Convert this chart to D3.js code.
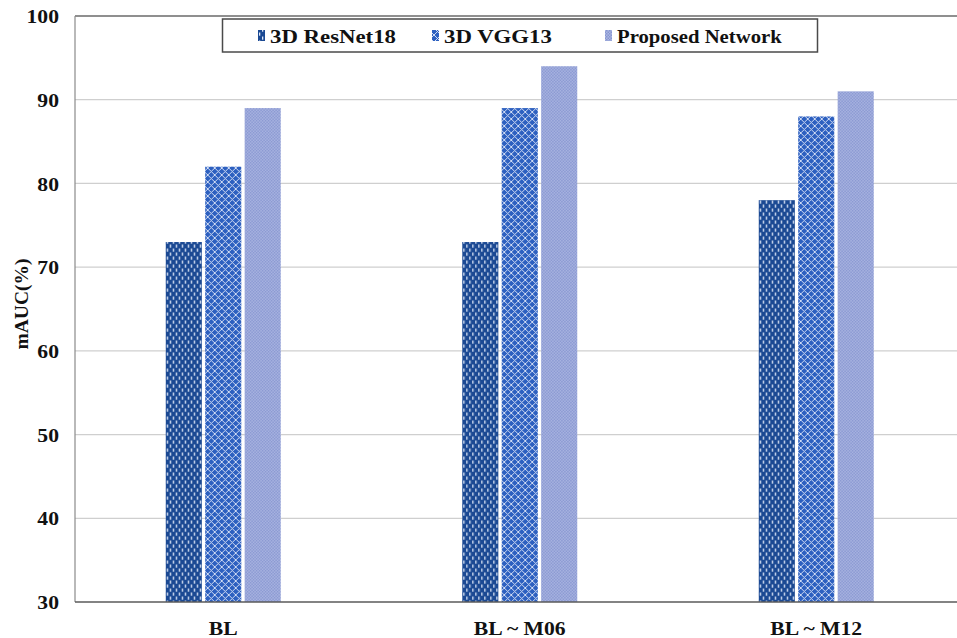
<!DOCTYPE html>
<html>
<head>
<meta charset="utf-8">
<script src="https://cdn.jsdelivr.net/npm/d3@7"></script>
<style>
  html, body { margin: 0; padding: 0; background: #fff; }
  svg { display: block; }
  text { font-family: "Liberation Serif", "Times New Roman", serif; font-weight: bold; fill: #111; }
</style>
</head>
<body>
<svg id="chart" width="957" height="638"></svg>
<script>
// Data
const categories = ["BL", "BL ~ M06", "BL ~ M12"];
const seriesNames = ["3D ResNet18", "3D VGG13", "Proposed Network"];
const resnet18 = [73, 73, 78];
const vgg13 = [82, 89, 88];
const proposed = [89, 94, 91];
const yTicks = [30, 40, 50, 60, 70, 80, 90, 100];
const seriesValues = [resnet18, vgg13, proposed];

const svg = d3.select("#chart");
const W = 957, H = 638;
const margin = { left: 75, top: 16, bottom: 36 };
const plotBottom = H - margin.bottom;
const plotRight = 964.5;
const stretch = 1.17;

// Fill patterns
const defs = svg.append("defs");
const pRes = defs.append("pattern").attr("id", "pat-res").attr("patternUnits", "userSpaceOnUse")
  .attr("width", 6).attr("height", 8);
pRes.append("rect").attr("width", 6).attr("height", 8).attr("fill", "#1b4993");
pRes.append("rect").attr("x", 1).attr("y", 0.5).attr("width", 1.3).attr("height", 3.2).attr("fill", "#dfe7f7");
pRes.append("rect").attr("x", 4).attr("y", 4.5).attr("width", 1.3).attr("height", 3.2).attr("fill", "#dfe7f7");

const pVgg = defs.append("pattern").attr("id", "pat-vgg").attr("patternUnits", "userSpaceOnUse")
  .attr("width", 7).attr("height", 7);
pVgg.append("rect").attr("width", 7).attr("height", 7).attr("fill", "#2d60c0");
pVgg.append("path").attr("d", "M0,0 L7,7 M7,0 L0,7 M-1,6 L1,8 M6,-1 L8,1 M-1,1 L1,-1 M6,8 L8,6")
  .attr("stroke", "#d8e2f6").attr("stroke-width", 0.95).attr("fill", "none");

const pProp = defs.append("pattern").attr("id", "pat-prop").attr("patternUnits", "userSpaceOnUse")
  .attr("width", 3).attr("height", 3);
pProp.append("rect").attr("width", 3).attr("height", 3).attr("fill", "#abb6e2");
pProp.append("rect").attr("width", 1.5).attr("height", 1.5).attr("fill", "#8796d0");
pProp.append("rect").attr("x", 1.5).attr("y", 1.5).attr("width", 1.5).attr("height", 1.5).attr("fill", "#8796d0");

const fills = ["url(#pat-res)", "url(#pat-vgg)", "url(#pat-prop)"];

// Scales
const x = d3.scaleBand().domain(categories).range([margin.left, plotRight]).padding(0);
const groupW = 115;
const xInner = d3.scaleBand().domain(seriesNames).range([0, groupW]).paddingInner(0.085).paddingOuter(0);
const y = d3.scaleLinear().domain([30, 100]).range([plotBottom, margin.top]);

function stretchText(sel, k) {
  sel.each(function () {
    const len = this.getComputedTextLength();
    d3.select(this).attr("textLength", len * (k || stretch)).attr("lengthAdjust", "spacingAndGlyphs");
  });
}

// Gridlines
svg.append("g").selectAll("line").data(yTicks.filter(t => t > 30 && t < 100)).join("line")
  .attr("x1", margin.left).attr("x2", W)
  .attr("y1", d => y(d)).attr("y2", d => y(d))
  .attr("stroke", "#cfcfcf").attr("stroke-width", 1.2);

// Frame: top and left edges
svg.append("line").attr("x1", margin.left).attr("x2", W).attr("y1", y(100)).attr("y2", y(100))
  .attr("stroke", "#6a6a6a").attr("stroke-width", 1.5);
svg.append("line").attr("x1", margin.left).attr("x2", margin.left).attr("y1", y(100)).attr("y2", y(30))
  .attr("stroke", "#8a8a8a").attr("stroke-width", 1.2);

// Bars
const groups = svg.append("g").selectAll("g").data(categories).join("g")
  .attr("transform", c => `translate(${x(c) + x.bandwidth() / 2 - groupW / 2},0)`);
groups.selectAll("rect").data((c, i) => seriesNames.map((s, j) => ({ s, j, v: seriesValues[j][i] })))
  .join("rect")
  .attr("x", d => xInner(d.s))
  .attr("width", xInner.bandwidth())
  .attr("y", d => y(d.v))
  .attr("height", d => y(30) - y(d.v))
  .attr("fill", d => fills[d.j]);

// Baseline
svg.append("line").attr("x1", margin.left).attr("x2", W).attr("y1", y(30)).attr("y2", y(30))
  .attr("stroke", "#5a5a5a").attr("stroke-width", 1.5);

// Y axis labels
const yAxis = d3.axisLeft(y).tickValues(yTicks).tickSize(0).tickPadding(16);
const yg = svg.append("g").attr("transform", `translate(${margin.left},0)`).call(yAxis);
yg.select(".domain").remove();
yg.selectAll("text").attr("font-size", 18.5).attr("font-family", null).attr("dy", "0.36em").call(stretchText);

// X axis labels
const xAxis = d3.axisBottom(x).tickSize(0).tickPadding(20);
const xg = svg.append("g").attr("transform", `translate(0,${plotBottom})`).call(xAxis);
xg.select(".domain").remove();
xg.selectAll("text").attr("font-size", 18.5).attr("font-family", null).call(stretchText);

// Y title
svg.append("text").attr("transform", "translate(28,304) rotate(-90)")
  .attr("text-anchor", "middle").attr("font-size", 19.5).text("mAUC(%)");

// Legend
const lg = svg.append("g");
lg.append("rect").attr("x", 222.5).attr("y", 19).attr("width", 595).attr("height", 33)
  .attr("fill", "#fff").attr("stroke", "#4a4a4a").attr("stroke-width", 1.5);
const legendX = [258, 432, 605];
const legendStretch = [1.2, 1.2, 1.09];
seriesNames.forEach((s, i) => {
  lg.append("rect").attr("x", legendX[i]).attr("y", 30).attr("width", 7).attr("height", 11).attr("fill", fills[i]);
  lg.append("text").attr("x", legendX[i] + 12).attr("y", 42.5).attr("font-size", 19).text(s)
    .call(stretchText, legendStretch[i]);
});
</script>
</body>
</html>
